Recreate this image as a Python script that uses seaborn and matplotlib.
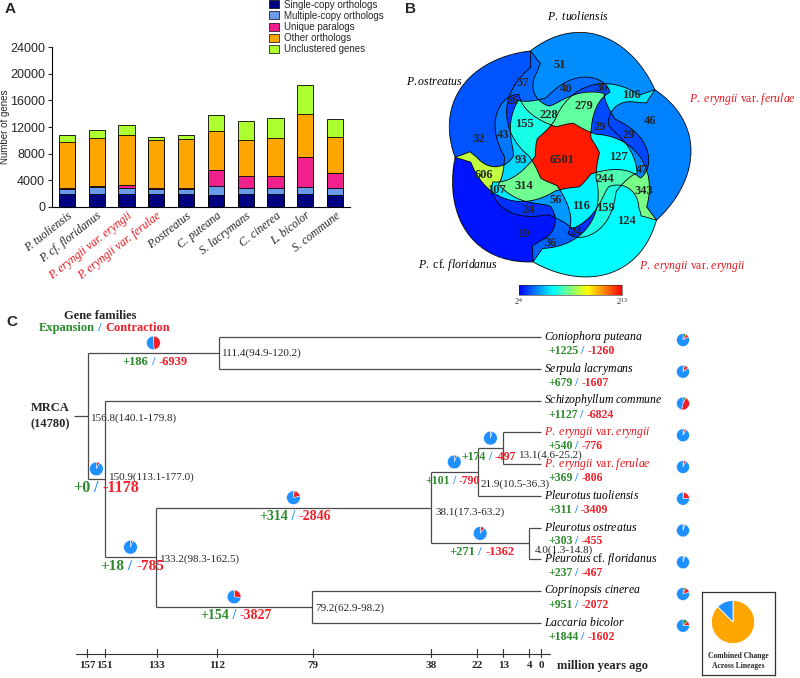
import numpy as np
import pandas as pd
import matplotlib
matplotlib.use('Agg')
import matplotlib.pyplot as plt
import seaborn as sns
from matplotlib.patches import Patch
from matplotlib.colors import LinearSegmentedColormap, Normalize
from matplotlib.cm import ScalarMappable

sns.set_style('white')
plt.rcParams['font.family'] = ['Liberation Sans', 'DejaVu Sans']
plt.rcParams['mathtext.fontset'] = 'custom'
plt.rcParams['mathtext.rm'] = 'Liberation Serif'
plt.rcParams['mathtext.it'] = 'Liberation Serif:italic'
plt.rcParams['mathtext.bf'] = 'Liberation Serif:bold'

# ---------------- A: gene composition per genome ----------------
species = ['P. tuoliensis', 'P. cf. floridanus', 'P. eryngii var. eryngii', 'P. eryngii var. ferulae',
           'P.ostreatus', 'C. puteana', 'S. lacrymans', 'C. cinerea', 'L. bicolor', 'S. commune']
red_species = ['P. eryngii var. eryngii', 'P. eryngii var. ferulae']
single_copy = [1900, 1900, 1900, 1900, 1900, 1850, 1900, 1900, 1900, 1850]
multi_copy = [850, 1050, 950, 850, 850, 1300, 950, 950, 1100, 1000]
unique_paralogs = [150, 150, 500, 100, 150, 2350, 1850, 1850, 4550, 2250]
other_orthologs = [6850, 7250, 7450, 7250, 7350, 5850, 5300, 5650, 6400, 5450]
unclustered = [1100, 1200, 1550, 450, 500, 2400, 2900, 3050, 4300, 2700]
layer_names = ['Single-copy orthologs', 'Multiple-copy orthologs', 'Unique paralogs',
               'Other orthologs', 'Unclustered genes']
layer_colors = ['#000080', '#6a9be8', '#f0218c', '#ffa500', '#adff2f']

# ---------------- B: shared gene families (5-set Venn) ----------------
venn_sets = ['P. tuoliensis', 'P. eryngii var. ferulae', 'P. eryngii var. eryngii',
             'P. cf. floridanus', 'P.ostreatus']
venn_keys = ['T', 'F', 'E', 'C', 'O',
             'TO', 'TF', 'FE', 'EC', 'CO',
             'TC', 'FO', 'TE', 'CF', 'OE',
             'TFC', 'FEO', 'TEC', 'COF', 'TOE',
             'TCO', 'TFO', 'TFE', 'FEC', 'ECO',
             'TFCO', 'TFEO', 'TFEC', 'FECO', 'TECO', 'TFECO']
venn_counts = [51, 46, 124, 19, 32,
               37, 106, 343, 36, 606,
               40, 29, 159, 24, 43,
               30, 47, 24, 107, 26,
               228, 29, 244, 56, 93,
               279, 127, 116, 314, 155, 6501]

# ---------------- C: gene family expansion / contraction ----------------
MRCA_FAMILIES = 14780
tip_names = ['Coniophora puteana', 'Serpula lacrymans', 'Schizophyllum commune',
             'P. eryngii var. eryngii', 'P. eryngii var. ferulae', 'Pleurotus tuoliensis',
             'Pleurotus ostreatus', 'Pleurotus cf. floridanus', 'Coprinopsis cinerea', 'Laccaria bicolor']
tip_gain = [1225, 679, 1127, 540, 369, 311, 303, 237, 951, 1844]
tip_loss = [1260, 1607, 6824, 776, 806, 3409, 455, 467, 2072, 1602]
node_children = {'root': ['n111', 'n151'], 'n111': [0, 1], 'n151': [2, 'n133'],
                 'n133': ['n38', 'n79'], 'n38': ['n22', 'n4'], 'n22': ['n13', 5],
                 'n13': [3, 4], 'n4': [6, 7], 'n79': [8, 9]}
node_age = {'root': 156.8, 'n111': 111.4, 'n151': 150.9, 'n133': 133.2, 'n38': 38.1,
            'n22': 21.9, 'n13': 13.1, 'n4': 4.0, 'n79': 79.2}
node_ci = {'root': '140.1-179.8', 'n111': '94.9-120.2', 'n151': '113.1-177.0', 'n133': '98.3-162.5',
           'n38': '17.3-63.2', 'n22': '10.5-36.3', 'n13': '4.6-25.2', 'n4': '1.3-14.8', 'n79': '62.9-98.2'}
node_gain = {'n111': 186, 'n151': 0, 'n133': 18, 'n38': 314, 'n22': 101, 'n13': 174, 'n4': 271, 'n79': 154}
node_loss = {'n111': 6939, 'n151': 1178, 'n133': 785, 'n38': 2846, 'n22': 790, 'n13': 497, 'n4': 1362, 'n79': 3827}
time_ticks = [157, 151, 133, 112, 79, 38, 22, 13, 4, 0]
combined_change = [87.5, 12.5]

GREEN, RED, BLUE = '#2a8a2a', '#f0202a', '#1e90ff'
TAXON_RED = '#e8141b'
SERIF = 'Liberation Serif'

W, H = 800, 678
fig = plt.figure(figsize=(W / 100, H / 100), dpi=100)


def box(x0, y0, x1, y1):
    return [x0 / W, 1 - y1 / H, (x1 - x0) / W, (y1 - y0) / H]


def taxon(name):
    return ' '.join(w if w in ('var.', 'cf.') else r'$\it{' + w + '}$' for w in name.split(' '))


# ---- panel A
axA = fig.add_axes(box(52, 47, 350, 207))
layers = np.array([single_copy, multi_copy, unique_paralogs, other_orthologs, unclustered])
cum = np.cumsum(layers, axis=0)
for k in range(4, -1, -1):
    sns.barplot(x=species, y=cum[k], color=layer_colors[k], width=0.55, saturation=1,
                edgecolor='black', linewidth=0.6, errorbar=None, ax=axA)
axA.set_ylim(0, 24000)
axA.set_yticks(range(0, 24001, 4000))
axA.tick_params(axis='y', labelsize=9, length=3, direction='out', left=True, pad=2)
axA.tick_params(axis='x', length=0, pad=2)
axA.set_xticks(range(len(species)))
axA.set_xticklabels(species, rotation=38, ha='right', rotation_mode='anchor',
                    fontfamily=SERIF, fontstyle='italic', fontsize=8.5)
for lab in axA.get_xticklabels():
    if lab.get_text() in red_species:
        lab.set_color(TAXON_RED)
axA.set_ylabel('Number of genes', fontsize=7)
axA.yaxis.set_label_coords((10 - 52) / 298, 0.5)
sns.despine(ax=axA)
for s in ['left', 'bottom']:
    axA.spines[s].set_color('black')
    axA.spines[s].set_linewidth(0.8)
handles = [Patch(facecolor=c, edgecolor='black', linewidth=0.5) for c in layer_colors]
fig.legend(handles, layer_names, loc='upper left', bbox_to_anchor=(268 / W, 1.002), frameon=False,
           fontsize=7, handlelength=1.0, handleheight=0.9, handletextpad=0.5,
           labelspacing=0.12, borderpad=0.1, borderaxespad=0)

# ---- panel B: five ellipses, reshaped by a radial warp into rounder blobs
axB = fig.add_axes(box(432, 22, 700, 290))
lim = 0.56
ea, eb, ed, skew, turn = 0.435, 0.28, 0.08, -35.0, -5.0
gamma, R0, round_k, twist, twist_edge = 0.5, 0.5, 0.5, np.deg2rad(45), 0.85
set_angles = [90, 18, -54, -126, 162]
ellipses = []
for th0 in set_angles:
    th = th0 + turn
    ellipses.append((ed * np.cos(np.deg2rad(th + skew)), ed * np.sin(np.deg2rad(th + skew)), np.deg2rad(th)))


def ellipse_field(x, y, e):
    cx, cy, th = e
    u = (x - cx) * np.cos(th) + (y - cy) * np.sin(th)
    v = -(x - cx) * np.sin(th) + (y - cy) * np.cos(th)
    return (u / ea) ** 2 + (v / eb) ** 2 - 1


# outer radius of the union along each direction
phis = np.linspace(-np.pi, np.pi, 1441)
svals = np.linspace(0, 0.7, 1401)
P, S = np.meshgrid(phis, svals)
inside = np.zeros(P.shape, bool)
for e in ellipses:
    inside |= ellipse_field(S * np.cos(P), S * np.sin(P), e) < 0
R_u = np.where(inside, S, 0).max(axis=0)
R_c = R_u.mean()

res = 700
g = np.linspace(-lim, lim, res)
X, Y = np.meshgrid(g, g)
rr = np.hypot(X, Y)
phi = np.arctan2(Y, X)
Ru_d = np.interp(phi, phis, R_u, period=2 * np.pi)
Rt = R0 * (Ru_d / R_c) ** round_k
rho = rr / Rt
phi_s = phi - twist * np.clip(1 - (rho / twist_edge) ** 2, 0, 1)
Ru_s = np.interp(phi_s, phis, R_u, period=2 * np.pi)
src = np.where(rho <= 1, rho ** gamma * (R_c + (Ru_s - R_c) * rho), Ru_s * rho)
Xs, Ys = src * np.cos(phi_s), src * np.sin(phi_s)

member = np.zeros(X.shape, int)
edge_dist = np.full(X.shape, np.inf)
fields = []
for i, e in enumerate(ellipses):
    F = ellipse_field(Xs, Ys, e)
    gy, gx = np.gradient(F, g, g)
    edge_dist = np.minimum(edge_dist, np.abs(F) / (np.hypot(gx, gy) + 1e-9))
    member |= (F < 0).astype(int) << i
    fields.append(F)

venn_cmap = LinearSegmentedColormap.from_list('venn', ['#0000ff', '#00ffff', '#ffff00', '#ff0000'])
vnorm = Normalize(4, 13)
rgba = np.zeros(X.shape + (4,))
letters = 'TFECO'
for key, cnt in zip(venn_keys, venn_counts):
    bits = sum(1 << letters.index(ch) for ch in key)
    sel = member == bits
    rgba[sel] = venn_cmap(vnorm(np.log2(cnt)))
    idx = np.argmax(np.where(sel, edge_dist, -1))
    axB.text(X.flat[idx], Y.flat[idx], str(cnt), ha='center', va='center',
             fontfamily=SERIF, fontweight='bold', fontsize=9, zorder=5)
axB.imshow(rgba, extent=(-lim, lim, -lim, lim), origin='lower', interpolation='nearest')
for F in fields:
    axB.contour(X, Y, F, levels=[0], colors='black', linewidths=0.6)
axB.set_xlim(-lim, lim)
axB.set_ylim(-lim, lim)
axB.axis('off')

set_label_px = [(578, 16, 'center'), (689, 99, 'left'), (692, 266, 'center'), (458, 265, 'center'), (463, 82, 'right')]
for name, (px, py, ha) in zip(venn_sets, set_label_px):
    fig.text(px / W, 1 - py / H, taxon(name), ha=ha, va='center', fontsize=8.5, fontfamily=SERIF,
             color=TAXON_RED if name in red_species else 'black')

cax = fig.add_axes(box(519, 285, 622, 295))
cb = fig.colorbar(ScalarMappable(norm=vnorm, cmap=venn_cmap), cax=cax, orientation='horizontal', ticks=[4, 13])
cb.ax.set_xticklabels(['$2^4$', '$2^{13}$'], fontsize=6)
cb.ax.tick_params(length=0, pad=1)
cb.outline.set_linewidth(0.4)

# ---- panel C
PX0, PX_PER_MY, ROW0, ROW_PX = 541, 2.89, 337, 31.75


def px2t(px):
    return (PX0 - px) / PX_PER_MY


def px2row(py):
    return (py - ROW0) / ROW_PX


axC = fig.add_axes(box(0, 305, 800, 678))
axC.set_xlim(px2t(0), px2t(W))
axC.set_ylim(px2row(678), px2row(305))
axC.axis('off')


def node_y(n):
    if isinstance(n, int):
        return float(n)
    return float(np.mean([node_y(c) for c in node_children[n]]))


def node_t(n):
    return 0.0 if isinstance(n, int) else node_age[n]


def pie_at(t, r, rad, values, colors):
    disp = axC.transData.transform((t, r))
    fx, fy = fig.transFigure.inverted().transform(disp)
    ap = fig.add_axes([fx - rad / W, fy - rad / H, 2 * rad / W, 2 * rad / H])
    ap.pie(values, colors=colors, startangle=90, counterclock=False,
           wedgeprops={'linewidth': 0.3, 'edgecolor': 'white'})
    ap.set_aspect('equal')
    ap.axis('off')
    return ap


def two_part(ax, x, y, left, right, size, centered=True, transform=None):
    style = dict(fontfamily=SERIF, fontweight='bold', fontsize=size)
    tr = transform if transform is not None else ax.transData
    if centered:
        mid = ax.text(x, y, ' / ', color=BLUE, ha='center', va='center', transform=tr, **style)
        ax.annotate(left, xy=(0, 0), xycoords=mid, ha='right', va='bottom', color=GREEN, **style)
    else:
        first = ax.text(x, y, left, color=GREEN, ha='left', va='center', transform=tr, **style)
        mid = ax.annotate(' / ', xy=(1, 0), xycoords=first, ha='left', va='bottom', color=BLUE, **style)
    ax.annotate(right, xy=(1, 0), xycoords=mid, ha='left', va='bottom', color=RED, **style)


line_kw = dict(color='#4a4a4a', lw=0.9, solid_capstyle='butt')
parent = {}
for n, kids in node_children.items():
    t = node_age[n]
    ys = [node_y(c) for c in kids]
    axC.plot([t, t], [min(ys), max(ys)], **line_kw)
    for c, yc in zip(kids, ys):
        axC.plot([t, node_t(c)], [yc, yc], **line_kw)
        parent[c] = n
root_y = node_y('root')
axC.plot([node_age['root'] + 14 / PX_PER_MY, node_age['root']], [root_y, root_y], **line_kw)
axC.annotate('MRCA\n(%d)' % MRCA_FAMILIES, xy=(node_age['root'], root_y), xytext=(-27, 0),
             textcoords='offset points', ha='center', va='center', fontfamily=SERIF,
             fontweight='bold', fontsize=9, linespacing=1.5)

ci_offset_px = {'root': (3, 2), 'n111': (3, 0), 'n151': (4, -2), 'n133': (4, 2), 'n79': (3, 1),
                'n38': (5, 5), 'n22': (3, 12), 'n13': (16, 7), 'n4': (5, 7)}
branch_font = {'n151': 11.5, 'n133': 11, 'n38': 10, 'n79': 10, 'n13': 8.5, 'n22': 8.5}
for n in node_children:
    dx, dy = ci_offset_px[n]
    axC.annotate('%.1f(%s)' % (node_age[n], node_ci[n]), xy=(node_age[n], node_y(n)),
                 xytext=(dx * 0.72, -dy * 0.72), textcoords='offset points', ha='left', va='center',
                 fontfamily=SERIF, fontsize=8)
    if n == 'root':
        continue
    tm = (node_age[parent[n]] + node_age[n]) / 2
    y = node_y(n)
    gain, loss = node_gain[n], node_loss[n]
    pie_at(tm, y - 10 / ROW_PX, 8.5, [gain, loss, MRCA_FAMILIES - gain - loss], [GREEN, RED, BLUE])
    two_part(axC, tm, y + 9 / ROW_PX, '+%d' % gain, '-%d' % loss, branch_font.get(n, 9))

for i, name in enumerate(tip_names):
    axC.annotate(taxon(name), xy=(0, i), xytext=(2, 0), textcoords='offset points', ha='left',
                 va='center', fontsize=8.5, fontfamily=SERIF,
                 color=TAXON_RED if name in red_species else 'black')
    two_part(axC, px2t(548), i + 14 / ROW_PX, '+%d' % tip_gain[i], '-%d' % tip_loss[i], 8.5, centered=False)
    pie_at(px2t(683), i + 3 / ROW_PX, 8, [tip_gain[i], tip_loss[i], MRCA_FAMILIES - tip_gain[i] - tip_loss[i]],
           [GREEN, RED, BLUE])

bar_y = px2row(654)
axC.plot([max(time_ticks) + 4, min(time_ticks) - 3], [bar_y, bar_y], color='#333333', lw=0.8)
for tk in time_ticks:
    axC.plot([tk, tk], [bar_y - 5 / ROW_PX, bar_y + 3 / ROW_PX], color='#333333', lw=0.8)
    axC.text(tk, px2row(666), str(tk), ha='center', va='center', fontfamily=SERIF,
             fontweight='bold', fontsize=8)
axC.text(px2t(557), px2row(666), 'million years ago', ha='left', va='center', fontfamily=SERIF,
         fontweight='bold', fontsize=9)

fig.text(100 / W, 1 - 316 / H, 'Gene families', ha='center', va='center', fontfamily=SERIF,
         fontweight='bold', fontsize=9)
two_part(axC, 100 / W, 1 - 328 / H, 'Expansion', 'Contraction', 9, transform=fig.transFigure)

axK = fig.add_axes(box(702, 592, 775, 675))
axK.set_xticks([])
axK.set_yticks([])
for s in axK.spines.values():
    s.set_visible(True)
    s.set_color('#333333')
    s.set_linewidth(0.9)
axK.text(0.5, 0.17, 'Combined Change\nAcross Lineages', transform=axK.transAxes, ha='center', va='center',
         fontfamily=SERIF, fontweight='bold', fontsize=5.5, linespacing=1.4)
kp = fig.add_axes(box(706, 595, 760, 649))
kp.pie(combined_change, colors=['#ffa500', BLUE], startangle=90, counterclock=False,
       wedgeprops={'linewidth': 0.6, 'edgecolor': 'white'})
kp.set_aspect('equal')
kp.axis('off')

for lab, px, py in [('A', 5, 9), ('B', 405, 9), ('C', 6, 322)]:
    fig.text(px / W, 1 - py / H, lab, ha='left', va='center', fontsize=11, fontweight='bold')

fig.savefig('out.png', dpi=100)
